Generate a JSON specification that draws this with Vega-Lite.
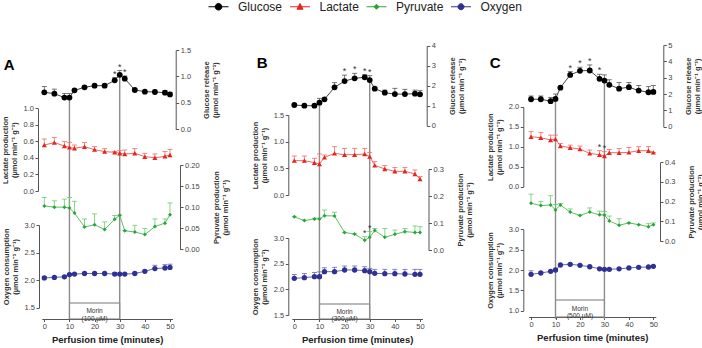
{
  "$schema": "https://vega.github.io/schema/vega-lite/v6.json",
  "width": 702,
  "height": 319,
  "autosize": {"type": "none"},
  "padding": {"left": 0, "top": 0, "right": 0, "bottom": 29},
  "background": "white",
  "datasets": {
    "panelA": [
      {"t": 0, "g": 0.70, "gh": 0.81, "l": 0.556, "lh": 0.629, "p": 0.103, "ph": 0.123, "o": 2.04, "oh": 2.06},
      {"t": 4, "g": 0.674, "gh": 0.76, "l": 0.585, "lh": 0.645, "p": 0.100, "ph": 0.115, "o": 2.05, "oh": 2.06},
      {"t": 8, "g": 0.60, "gh": 0.68, "l": 0.544, "lh": 0.597, "p": 0.100, "ph": 0.119, "o": 2.06, "oh": 2.07},
      {"t": 10, "g": 0.60, "gh": 0.68, "l": 0.528, "lh": 0.589, "p": 0.098, "ph": 0.123, "o": 2.10, "oh": 2.12},
      {"t": 12, "g": 0.737, "gh": 0.76, "l": 0.516, "lh": 0.556, "p": 0.086, "ph": 0.114, "o": 2.11, "oh": 2.12},
      {"t": 16, "g": 0.794, "gh": 0.82, "l": 0.536, "lh": 0.585, "p": 0.053, "ph": 0.072, "o": 2.12, "oh": 2.13},
      {"t": 20, "g": 0.825, "gh": 0.85, "l": 0.500, "lh": 0.536, "p": 0.058, "ph": 0.084, "o": 2.12, "oh": 2.13},
      {"t": 24, "g": 0.825, "gh": 0.83, "l": 0.476, "lh": 0.512, "p": 0.047, "ph": 0.065, "o": 2.12, "oh": 2.13},
      {"t": 28, "g": 0.926, "gh": 0.976, "gs": true, "l": 0.468, "lh": 0.476, "p": 0.071, "ph": 0.080, "o": 2.11, "oh": 2.14},
      {"t": 30, "g": 1.03, "gh": 1.11, "gs": true, "l": 0.456, "lh": 0.488, "p": 0.081, "ph": 0.081, "o": 2.11, "oh": 2.12},
      {"t": 32, "g": 0.958, "gh": 1.008, "gs": true, "l": 0.448, "lh": 0.496, "p": 0.044, "ph": 0.044, "o": 2.11, "oh": 2.12},
      {"t": 36, "g": 0.744, "gh": 0.77, "l": 0.456, "lh": 0.512, "p": 0.041, "ph": 0.057, "o": 2.12, "oh": 2.14},
      {"t": 40, "g": 0.712, "gh": 0.712, "l": 0.415, "lh": 0.456, "p": 0.035, "ph": 0.049, "o": 2.16, "oh": 2.18},
      {"t": 44, "g": 0.706, "gh": 0.74, "l": 0.403, "lh": 0.448, "p": 0.054, "ph": 0.072, "o": 2.21, "oh": 2.27},
      {"t": 48, "g": 0.693, "gh": 0.73, "l": 0.419, "lh": 0.476, "p": 0.062, "ph": 0.072, "o": 2.22, "oh": 2.28},
      {"t": 50, "g": 0.66, "gh": 0.70, "l": 0.435, "lh": 0.504, "p": 0.082, "ph": 0.110, "o": 2.23, "oh": 2.29}
    ],
    "panelB": [
      {"t": 0, "g": 1.035, "gh": 1.08, "l": 0.644, "lh": 0.731, "p": 0.123, "ph": 0.123, "o": 2.215, "oh": 2.29},
      {"t": 4, "g": 1.00, "gh": 1.00, "l": 0.644, "lh": 0.731, "p": 0.109, "ph": 0.109, "o": 2.227, "oh": 2.31},
      {"t": 8, "g": 1.00, "gh": 1.00, "l": 0.606, "lh": 0.688, "p": 0.115, "ph": 0.118, "o": 2.247, "oh": 2.33},
      {"t": 10, "g": 1.15, "gh": 1.37, "l": 0.581, "lh": 0.769, "p": 0.115, "ph": 0.118, "o": 2.247, "oh": 2.34},
      {"t": 12, "g": 1.32, "gh": 1.35, "l": 0.706, "lh": 0.75, "p": 0.127, "ph": 0.148, "o": 2.344, "oh": 2.42},
      {"t": 16, "g": 1.92, "gh": 2.15, "l": 0.78, "lh": 0.906, "p": 0.126, "ph": 0.140, "o": 2.344, "oh": 2.43},
      {"t": 20, "g": 2.23, "gh": 2.53, "gs": true, "l": 0.756, "lh": 0.875, "p": 0.065, "ph": 0.065, "o": 2.377, "oh": 2.455},
      {"t": 24, "g": 2.37, "gh": 2.62, "gs": true, "l": 0.756, "lh": 0.875, "p": 0.059, "ph": 0.059, "o": 2.377, "oh": 2.455},
      {"t": 28, "g": 2.42, "gh": 2.55, "gs": true, "l": 0.769, "lh": 0.875, "p": 0.036, "ph": 0.049, "ps": true, "o": 2.364, "oh": 2.44},
      {"t": 30, "g": 2.28, "gh": 2.50, "gs": true, "l": 0.719, "lh": 0.80, "p": 0.047, "ph": 0.068, "ps": true, "o": 2.344, "oh": 2.41},
      {"t": 32, "g": 1.85, "gh": 1.90, "l": 0.556, "lh": 0.625, "p": 0.072, "ph": 0.080, "o": 2.312, "oh": 2.39},
      {"t": 36, "g": 1.65, "gh": 1.78, "l": 0.488, "lh": 0.55, "p": 0.047, "ph": 0.080, "o": 2.305, "oh": 2.39},
      {"t": 40, "g": 1.58, "gh": 1.87, "l": 0.444, "lh": 0.513, "p": 0.058, "ph": 0.074, "o": 2.305, "oh": 2.39},
      {"t": 44, "g": 1.58, "gh": 1.82, "l": 0.444, "lh": 0.513, "p": 0.068, "ph": 0.080, "o": 2.299, "oh": 2.39},
      {"t": 48, "g": 1.60, "gh": 1.78, "l": 0.394, "lh": 0.469, "p": 0.065, "ph": 0.089, "o": 2.292, "oh": 2.39},
      {"t": 50, "g": 1.57, "gh": 1.75, "l": 0.30, "lh": 0.344, "p": 0.065, "ph": 0.086, "o": 2.292, "oh": 2.39}
    ],
    "panelC": [
      {"t": 0, "g": 1.68, "gh": 1.88, "l": 1.25, "lh": 1.375, "p": 0.192, "ph": 0.238, "o": 1.893, "oh": 1.98},
      {"t": 4, "g": 1.68, "gh": 1.88, "l": 1.225, "lh": 1.35, "p": 0.18, "ph": 0.202, "o": 1.926, "oh": 1.95},
      {"t": 8, "g": 1.56, "gh": 1.78, "l": 1.167, "lh": 1.29, "p": 0.183, "ph": 0.23, "o": 1.967, "oh": 1.99},
      {"t": 10, "g": 1.70, "gh": 2.0, "l": 1.19, "lh": 1.29, "p": 0.158, "ph": 0.185, "o": 2.0, "oh": 2.02},
      {"t": 12, "g": 2.39, "gh": 2.39, "l": 1.017, "lh": 1.083, "p": 0.183, "ph": 0.19, "o": 2.123, "oh": 2.14},
      {"t": 16, "g": 3.17, "gh": 3.37, "gs": true, "l": 0.975, "lh": 1.04, "p": 0.147, "ph": 0.163, "o": 2.14, "oh": 2.16},
      {"t": 20, "g": 3.42, "gh": 3.64, "gs": true, "l": 0.94, "lh": 1.017, "p": 0.13, "ph": 0.13, "o": 2.115, "oh": 2.13},
      {"t": 24, "g": 3.44, "gh": 3.78, "gs": true, "l": 0.833, "lh": 0.917, "p": 0.147, "ph": 0.168, "o": 2.08, "oh": 2.10},
      {"t": 28, "g": 2.93, "gh": 3.21, "gs": true, "l": 0.80, "lh": 0.90, "ls": true, "p": 0.133, "ph": 0.152, "o": 2.03, "oh": 2.05},
      {"t": 30, "g": 2.82, "gh": 3.17, "l": 0.767, "lh": 0.875, "ls": true, "p": 0.132, "ph": 0.15, "o": 2.016, "oh": 2.03},
      {"t": 32, "g": 2.56, "gh": 2.87, "l": 0.85, "lh": 0.933, "p": 0.102, "ph": 0.127, "o": 2.016, "oh": 2.03},
      {"t": 36, "g": 2.33, "gh": 2.70, "l": 0.85, "lh": 0.958, "p": 0.08, "ph": 0.113, "o": 2.03, "oh": 2.04},
      {"t": 40, "g": 2.42, "gh": 2.70, "l": 0.858, "lh": 0.983, "p": 0.092, "ph": 0.092, "o": 2.05, "oh": 2.06},
      {"t": 44, "g": 2.21, "gh": 2.52, "l": 0.90, "lh": 1.0, "p": 0.083, "ph": 0.083, "o": 2.066, "oh": 2.08},
      {"t": 48, "g": 2.11, "gh": 2.45, "l": 0.90, "lh": 1.0, "p": 0.073, "ph": 0.088, "o": 2.074, "oh": 2.09},
      {"t": 50, "g": 2.13, "gh": 2.52, "l": 0.858, "lh": 0.858, "p": 0.083, "ph": 0.092, "o": 2.09, "oh": 2.10}
    ]
  },
  "layer": [
    {
      "data": {"name": "panelA"},
      "layer": [
        {
          "data": {"values": [{"start": 10, "end": 30, "mid": 20, "label": "Morin\n(100 µM)"}]},
          "encoding": {"y": {"datum": 1, "type": "quantitative", "scale": {"domain": [0, 1], "range": [319, 303], "nice": false, "zero": false}, "axis": null}},
          "layer": [
            {"mark": {"type": "rect", "filled": false, "stroke": "#777", "strokeWidth": 1}, "encoding": {"x": {"field": "start", "type": "quantitative", "scale": {"domain": [-1, 51], "range": [41.8, 172.5], "nice": false, "zero": false}}, "x2": {"field": "end"}, "y2": {"datum": 0}}},
            {"mark": {"type": "text", "lineBreak": "\n", "fontSize": 6.5, "lineHeight": 7.5, "color": "#333"}, "encoding": {"x": {"field": "mid", "type": "quantitative", "scale": {"domain": [-1, 51], "range": [41.8, 172.5], "nice": false, "zero": false}}, "y": {"datum": 0.5, "type": "quantitative", "scale": {"domain": [0, 1], "range": [319, 303], "nice": false, "zero": false}}, "text": {"field": "label"}}}
          ]
        },
        {
          "data": {"values": [{"letter": "A"}]},
          "mark": {"type": "text", "fontSize": 15, "fontWeight": "bold", "color": "#000"},
          "encoding": {"x": {"datum": -14, "type": "quantitative", "scale": {"domain": [-1, 51], "range": [41.8, 172.5], "nice": false, "zero": false}}, "y": {"datum": 1.22, "type": "quantitative", "scale": {"domain": [0, 1.5], "range": [129.3, 50], "nice": false, "zero": false}, "axis": null}, "text": {"field": "letter", "type": "nominal"}}
        },
        {
          "encoding": {
            "x": {"field": "t", "type": "quantitative", "scale": {"domain": [-1, 51], "range": [41.8, 172.5], "nice": false, "zero": false}, "axis": {"orient": "bottom", "values": [0, 10, 20, 30, 40, 50], "format": "d", "title": "Perfusion time (minutes)", "labelFlush": false}},
            "y": {"field": "g", "type": "quantitative", "scale": {"domain": [0, 1.5], "range": [129.3, 50], "nice": false, "zero": false}, "axis": {"orient": "right", "offset": -526.3, "values": [0, 0.5, 1, 1.5], "format": ".1f", "title": ["Glucose release", "(µmol min⁻¹ g⁻¹)"], "titleAngle": 270, "titleBaseline": "top", "titlePadding": 3}}
          },
          "layer": [
            {"transform": [{"filter": "datum.t == 10 || datum.t == 30"}], "mark": {"type": "rule", "color": "#8c8c8c", "strokeWidth": 1.4}, "encoding": {"y2": {"value": "height"}}},
            {"mark": {"type": "rule", "color": "#555", "strokeWidth": 0.8}, "encoding": {"y2": {"field": "gh"}}},
            {"mark": {"type": "tick", "orient": "horizontal", "color": "#555", "size": 5, "thickness": 0.8, "opacity": 1}, "encoding": {"y": {"field": "gh", "type": "quantitative", "scale": {"domain": [0, 1.5], "range": [129.3, 50], "nice": false, "zero": false}}}},
            {"mark": {"type": "line", "color": "#444", "strokeWidth": 1}, "encoding": {}},
            {"mark": {"type": "point", "shape": "circle", "filled": true, "color": "#000", "size": 34, "opacity": 1}},
            {"transform": [{"filter": "datum.gs"}], "mark": {"type": "text", "text": "*", "fontSize": 9, "dy": -1, "baseline": "alphabetic", "color": "#333"}, "encoding": {"y": {"field": "gh", "type": "quantitative", "scale": {"domain": [0, 1.5], "range": [129.3, 50], "nice": false, "zero": false}}}}
          ]
        },
        {
          "encoding": {
            "x": {"field": "t", "type": "quantitative", "scale": {"domain": [-1, 51], "range": [41.8, 172.5], "nice": false, "zero": false}},
            "y": {"field": "l", "type": "quantitative", "scale": {"domain": [0, 1], "range": [191, 108.3], "nice": false, "zero": false}, "axis": {"orient": "left", "offset": -38, "values": [0, 0.2, 0.4, 0.6, 0.8, 1], "format": ".1f", "title": ["Lactate production", "(µmol min⁻¹ g⁻¹)"]}}
          },
          "layer": [
            {"mark": {"type": "rule", "color": "#f06a64", "strokeWidth": 0.8}, "encoding": {"y2": {"field": "lh"}}},
            {"mark": {"type": "tick", "orient": "horizontal", "color": "#f06a64", "size": 5, "thickness": 0.8, "opacity": 1}, "encoding": {"y": {"field": "lh", "type": "quantitative", "scale": {"domain": [0, 1], "range": [191, 108.3], "nice": false, "zero": false}}}},
            {"mark": {"type": "line", "color": "#f06a64", "strokeWidth": 1}, "encoding": {}},
            {"mark": {"type": "point", "shape": "triangle-up", "filled": true, "color": "#e8231d", "size": 26, "opacity": 1}}
          ]
        },
        {
          "encoding": {
            "x": {"field": "t", "type": "quantitative", "scale": {"domain": [-1, 51], "range": [41.8, 172.5], "nice": false, "zero": false}},
            "y": {"field": "p", "type": "quantitative", "scale": {"domain": [0, 0.2], "range": [249.3, 165], "nice": false, "zero": false}, "axis": {"orient": "right", "offset": -522, "values": [0, 0.05, 0.1, 0.15, 0.2], "format": ".2f", "title": ["Pyruvate production", "(µmol min⁻¹ g⁻¹)"], "titleAngle": 270, "titleBaseline": "top", "titlePadding": 4}}
          },
          "layer": [
            {"mark": {"type": "rule", "color": "#6cc96c", "strokeWidth": 0.8}, "encoding": {"y2": {"field": "ph"}}},
            {"mark": {"type": "tick", "orient": "horizontal", "color": "#6cc96c", "size": 5, "thickness": 0.8, "opacity": 1}, "encoding": {"y": {"field": "ph", "type": "quantitative", "scale": {"domain": [0, 0.2], "range": [249.3, 165], "nice": false, "zero": false}}}},
            {"mark": {"type": "line", "color": "#5cc35c", "strokeWidth": 1}, "encoding": {}},
            {"mark": {"type": "point", "shape": "diamond", "filled": true, "color": "#2aa33e", "size": 16, "opacity": 1}}
          ]
        },
        {
          "encoding": {
            "x": {"field": "t", "type": "quantitative", "scale": {"domain": [-1, 51], "range": [41.8, 172.5], "nice": false, "zero": false}},
            "y": {"field": "o", "type": "quantitative", "scale": {"domain": [1.5, 3], "range": [307.7, 225], "nice": false, "zero": false}, "axis": {"orient": "left", "offset": -39, "values": [1.5, 2, 2.5, 3], "format": ".1f", "title": ["Oxygen consumption", "(µmol min⁻¹ g⁻¹)"]}}
          },
          "layer": [
            {"mark": {"type": "rule", "color": "#6667b3", "strokeWidth": 0.8}, "encoding": {"y2": {"field": "oh"}}},
            {"mark": {"type": "tick", "orient": "horizontal", "color": "#6667b3", "size": 5, "thickness": 0.8, "opacity": 1}, "encoding": {"y": {"field": "oh", "type": "quantitative", "scale": {"domain": [1.5, 3], "range": [307.7, 225], "nice": false, "zero": false}}}},
            {"mark": {"type": "line", "color": "#6667b3", "strokeWidth": 1}, "encoding": {}},
            {"mark": {"type": "point", "shape": "circle", "filled": true, "color": "#2e3192", "size": 28, "opacity": 1}}
          ]
        }
      ],
      "resolve": {"scale": {"y": "independent"}, "axis": {"y": "independent"}}
    },
    {
      "data": {"name": "panelB"},
      "layer": [
        {
          "data": {"values": [{"start": 10, "end": 30, "mid": 20, "label": "Morin\n(300 µM)"}]},
          "encoding": {"y": {"datum": 1, "type": "quantitative", "scale": {"domain": [0, 1], "range": [319, 304], "nice": false, "zero": false}, "axis": null}},
          "layer": [
            {"mark": {"type": "rect", "filled": false, "stroke": "#777", "strokeWidth": 1}, "encoding": {"x": {"field": "start", "type": "quantitative", "scale": {"domain": [-1, 51], "range": [291.8, 422.5], "nice": false, "zero": false}}, "x2": {"field": "end"}, "y2": {"datum": 0}}},
            {"mark": {"type": "text", "lineBreak": "\n", "fontSize": 6.5, "lineHeight": 7.5, "color": "#333"}, "encoding": {"x": {"field": "mid", "type": "quantitative", "scale": {"domain": [-1, 51], "range": [291.8, 422.5], "nice": false, "zero": false}}, "y": {"datum": 0.5, "type": "quantitative", "scale": {"domain": [0, 1], "range": [319, 304], "nice": false, "zero": false}}, "text": {"field": "label"}}}
          ]
        },
        {
          "data": {"values": [{"letter": "B"}]},
          "mark": {"type": "text", "fontSize": 15, "fontWeight": "bold", "color": "#000"},
          "encoding": {"x": {"datum": -12.8, "type": "quantitative", "scale": {"domain": [-1, 51], "range": [291.8, 422.5], "nice": false, "zero": false}}, "y": {"datum": 3.13, "type": "quantitative", "scale": {"domain": [0, 4], "range": [125.7, 45.7], "nice": false, "zero": false}, "axis": null}, "text": {"field": "letter", "type": "nominal"}}
        },
        {
          "encoding": {
            "x": {"field": "t", "type": "quantitative", "scale": {"domain": [-1, 51], "range": [291.8, 422.5], "nice": false, "zero": false}, "axis": {"orient": "bottom", "values": [0, 10, 20, 30, 40, 50], "format": "d", "title": "Perfusion time (minutes)", "labelFlush": false}},
            "y": {"field": "g", "type": "quantitative", "scale": {"domain": [0, 4], "range": [125.7, 45.7], "nice": false, "zero": false}, "axis": {"orient": "right", "offset": -275.3, "values": [0, 1, 2, 3, 4], "format": "d", "title": ["Glucose release", "(µmol min⁻¹ g⁻¹)"], "titleAngle": 270, "titleBaseline": "top", "titlePadding": 4}}
          },
          "layer": [
            {"transform": [{"filter": "datum.t == 10 || datum.t == 30"}], "mark": {"type": "rule", "color": "#8c8c8c", "strokeWidth": 1.4}, "encoding": {"y2": {"value": "height"}}},
            {"mark": {"type": "rule", "color": "#555", "strokeWidth": 0.8}, "encoding": {"y2": {"field": "gh"}}},
            {"mark": {"type": "tick", "orient": "horizontal", "color": "#555", "size": 5, "thickness": 0.8, "opacity": 1}, "encoding": {"y": {"field": "gh", "type": "quantitative", "scale": {"domain": [0, 4], "range": [125.7, 45.7], "nice": false, "zero": false}}}},
            {"mark": {"type": "line", "color": "#444", "strokeWidth": 1}, "encoding": {}},
            {"mark": {"type": "point", "shape": "circle", "filled": true, "color": "#000", "size": 34, "opacity": 1}},
            {"transform": [{"filter": "datum.gs"}], "mark": {"type": "text", "text": "*", "fontSize": 9, "dy": -1, "baseline": "alphabetic", "color": "#333"}, "encoding": {"y": {"field": "gh", "type": "quantitative", "scale": {"domain": [0, 4], "range": [125.7, 45.7], "nice": false, "zero": false}}}}
          ]
        },
        {
          "encoding": {
            "x": {"field": "t", "type": "quantitative", "scale": {"domain": [-1, 51], "range": [291.8, 422.5], "nice": false, "zero": false}},
            "y": {"field": "l", "type": "quantitative", "scale": {"domain": [0, 1.5], "range": [195, 115], "nice": false, "zero": false}, "axis": {"orient": "left", "offset": -288.3, "values": [0, 0.5, 1, 1.5], "format": ".1f", "title": ["Lactate production", "(µmol min⁻¹ g⁻¹)"]}}
          },
          "layer": [
            {"mark": {"type": "rule", "color": "#f06a64", "strokeWidth": 0.8}, "encoding": {"y2": {"field": "lh"}}},
            {"mark": {"type": "tick", "orient": "horizontal", "color": "#f06a64", "size": 5, "thickness": 0.8, "opacity": 1}, "encoding": {"y": {"field": "lh", "type": "quantitative", "scale": {"domain": [0, 1.5], "range": [195, 115], "nice": false, "zero": false}}}},
            {"mark": {"type": "line", "color": "#f06a64", "strokeWidth": 1}, "encoding": {}},
            {"mark": {"type": "point", "shape": "triangle-up", "filled": true, "color": "#e8231d", "size": 26, "opacity": 1}}
          ]
        },
        {
          "encoding": {
            "x": {"field": "t", "type": "quantitative", "scale": {"domain": [-1, 51], "range": [291.8, 422.5], "nice": false, "zero": false}},
            "y": {"field": "p", "type": "quantitative", "scale": {"domain": [0, 0.3], "range": [250, 169], "nice": false, "zero": false}, "axis": {"orient": "right", "offset": -273.5, "values": [0, 0.1, 0.2, 0.3], "format": ".1f", "title": ["Pyruvate production", "(µmol min⁻¹ g⁻¹)"], "titleAngle": 270, "titleBaseline": "top", "titlePadding": 4}}
          },
          "layer": [
            {"mark": {"type": "rule", "color": "#6cc96c", "strokeWidth": 0.8}, "encoding": {"y2": {"field": "ph"}}},
            {"mark": {"type": "tick", "orient": "horizontal", "color": "#6cc96c", "size": 5, "thickness": 0.8, "opacity": 1}, "encoding": {"y": {"field": "ph", "type": "quantitative", "scale": {"domain": [0, 0.3], "range": [250, 169], "nice": false, "zero": false}}}},
            {"mark": {"type": "line", "color": "#5cc35c", "strokeWidth": 1}, "encoding": {}},
            {"mark": {"type": "point", "shape": "diamond", "filled": true, "color": "#2aa33e", "size": 16, "opacity": 1}},
            {"transform": [{"filter": "datum.ps"}], "mark": {"type": "text", "text": "*", "fontSize": 9, "dy": -1, "baseline": "alphabetic", "color": "#333"}, "encoding": {"y": {"field": "ph", "type": "quantitative", "scale": {"domain": [0, 0.3], "range": [250, 169], "nice": false, "zero": false}}}}
          ]
        },
        {
          "encoding": {
            "x": {"field": "t", "type": "quantitative", "scale": {"domain": [-1, 51], "range": [291.8, 422.5], "nice": false, "zero": false}},
            "y": {"field": "o", "type": "quantitative", "scale": {"domain": [1.5, 3], "range": [315, 238], "nice": false, "zero": false}, "axis": {"orient": "left", "offset": -288.3, "values": [1.5, 2, 2.5, 3], "format": ".1f", "title": ["Oxygen consumption", "(µmol min⁻¹ g⁻¹)"]}}
          },
          "layer": [
            {"mark": {"type": "rule", "color": "#6667b3", "strokeWidth": 0.8}, "encoding": {"y2": {"field": "oh"}}},
            {"mark": {"type": "tick", "orient": "horizontal", "color": "#6667b3", "size": 5, "thickness": 0.8, "opacity": 1}, "encoding": {"y": {"field": "oh", "type": "quantitative", "scale": {"domain": [1.5, 3], "range": [315, 238], "nice": false, "zero": false}}}},
            {"mark": {"type": "line", "color": "#6667b3", "strokeWidth": 1}, "encoding": {}},
            {"mark": {"type": "point", "shape": "circle", "filled": true, "color": "#2e3192", "size": 28, "opacity": 1}}
          ]
        }
      ],
      "resolve": {"scale": {"y": "independent"}, "axis": {"y": "independent"}}
    },
    {
      "data": {"name": "panelC"},
      "layer": [
        {
          "data": {"values": [{"start": 10, "end": 30, "mid": 20, "label": "Morin\n(500 µM)"}]},
          "encoding": {"y": {"datum": 1, "type": "quantitative", "scale": {"domain": [0, 1], "range": [317, 300], "nice": false, "zero": false}, "axis": null}},
          "layer": [
            {"mark": {"type": "rect", "filled": false, "stroke": "#777", "strokeWidth": 1}, "encoding": {"x": {"field": "start", "type": "quantitative", "scale": {"domain": [-1, 51], "range": [528.6, 655.8], "nice": false, "zero": false}}, "x2": {"field": "end"}, "y2": {"datum": 0}}},
            {"mark": {"type": "text", "lineBreak": "\n", "fontSize": 6.5, "lineHeight": 7.5, "color": "#333"}, "encoding": {"x": {"field": "mid", "type": "quantitative", "scale": {"domain": [-1, 51], "range": [528.6, 655.8], "nice": false, "zero": false}}, "y": {"datum": 0.5, "type": "quantitative", "scale": {"domain": [0, 1], "range": [317, 300], "nice": false, "zero": false}}, "text": {"field": "label"}}}
          ]
        },
        {
          "data": {"values": [{"letter": "C"}]},
          "mark": {"type": "text", "fontSize": 15, "fontWeight": "bold", "color": "#000"},
          "encoding": {"x": {"datum": -14.7, "type": "quantitative", "scale": {"domain": [-1, 51], "range": [528.6, 655.8], "nice": false, "zero": false}}, "y": {"datum": 3.9, "type": "quantitative", "scale": {"domain": [0, 5], "range": [126.7, 45], "nice": false, "zero": false}, "axis": null}, "text": {"field": "letter", "type": "nominal"}}
        },
        {
          "encoding": {
            "x": {"field": "t", "type": "quantitative", "scale": {"domain": [-1, 51], "range": [528.6, 655.8], "nice": false, "zero": false}, "axis": {"orient": "bottom", "values": [0, 10, 20, 30, 40, 50], "format": "d", "title": "Perfusion time (minutes)", "labelFlush": false, "offset": -2}},
            "y": {"field": "g", "type": "quantitative", "scale": {"domain": [0, 5], "range": [126.7, 45], "nice": false, "zero": false}, "axis": {"orient": "right", "offset": -38.7, "values": [0, 1, 2, 3, 4, 5], "format": "d", "title": ["Glucose release", "(µmol min⁻¹ g⁻¹)"], "titleAngle": 270, "titleBaseline": "top", "titlePadding": 4}}
          },
          "layer": [
            {"transform": [{"filter": "datum.t == 10 || datum.t == 30"}], "mark": {"type": "rule", "color": "#8c8c8c", "strokeWidth": 1.4}, "encoding": {"y2": {"value": "height"}}},
            {"mark": {"type": "rule", "color": "#555", "strokeWidth": 0.8}, "encoding": {"y2": {"field": "gh"}}},
            {"mark": {"type": "tick", "orient": "horizontal", "color": "#555", "size": 5, "thickness": 0.8, "opacity": 1}, "encoding": {"y": {"field": "gh", "type": "quantitative", "scale": {"domain": [0, 5], "range": [126.7, 45], "nice": false, "zero": false}}}},
            {"mark": {"type": "line", "color": "#444", "strokeWidth": 1}, "encoding": {}},
            {"mark": {"type": "point", "shape": "circle", "filled": true, "color": "#000", "size": 34, "opacity": 1}},
            {"transform": [{"filter": "datum.gs"}], "mark": {"type": "text", "text": "*", "fontSize": 9, "dy": -1, "baseline": "alphabetic", "color": "#333"}, "encoding": {"y": {"field": "gh", "type": "quantitative", "scale": {"domain": [0, 5], "range": [126.7, 45], "nice": false, "zero": false}}}}
          ]
        },
        {
          "encoding": {
            "x": {"field": "t", "type": "quantitative", "scale": {"domain": [-1, 51], "range": [528.6, 655.8], "nice": false, "zero": false}},
            "y": {"field": "l", "type": "quantitative", "scale": {"domain": [0, 2], "range": [186.7, 106.7], "nice": false, "zero": false}, "axis": {"orient": "left", "offset": -523.3, "values": [0, 0.5, 1, 1.5, 2], "format": ".1f", "title": ["Lactate production", "(µmol min⁻¹ g⁻¹)"]}}
          },
          "layer": [
            {"mark": {"type": "rule", "color": "#f06a64", "strokeWidth": 0.8}, "encoding": {"y2": {"field": "lh"}}},
            {"mark": {"type": "tick", "orient": "horizontal", "color": "#f06a64", "size": 5, "thickness": 0.8, "opacity": 1}, "encoding": {"y": {"field": "lh", "type": "quantitative", "scale": {"domain": [0, 2], "range": [186.7, 106.7], "nice": false, "zero": false}}}},
            {"mark": {"type": "line", "color": "#f06a64", "strokeWidth": 1}, "encoding": {}},
            {"mark": {"type": "point", "shape": "triangle-up", "filled": true, "color": "#e8231d", "size": 26, "opacity": 1}},
            {"transform": [{"filter": "datum.ls"}], "mark": {"type": "text", "text": "*", "fontSize": 9, "dy": -1, "baseline": "alphabetic", "color": "#333"}, "encoding": {"y": {"field": "lh", "type": "quantitative", "scale": {"domain": [0, 2], "range": [186.7, 106.7], "nice": false, "zero": false}}}}
          ]
        },
        {
          "encoding": {
            "x": {"field": "t", "type": "quantitative", "scale": {"domain": [-1, 51], "range": [528.6, 655.8], "nice": false, "zero": false}},
            "y": {"field": "p", "type": "quantitative", "scale": {"domain": [0, 0.4], "range": [241, 162.3], "nice": false, "zero": false}, "axis": {"orient": "right", "offset": -42, "values": [0, 0.1, 0.2, 0.3, 0.4], "format": ".1f", "title": ["Pyruvate production", "(µmol min⁻¹ g⁻¹)"], "titleAngle": 270, "titleBaseline": "top", "titlePadding": 4}}
          },
          "layer": [
            {"mark": {"type": "rule", "color": "#6cc96c", "strokeWidth": 0.8}, "encoding": {"y2": {"field": "ph"}}},
            {"mark": {"type": "tick", "orient": "horizontal", "color": "#6cc96c", "size": 5, "thickness": 0.8, "opacity": 1}, "encoding": {"y": {"field": "ph", "type": "quantitative", "scale": {"domain": [0, 0.4], "range": [241, 162.3], "nice": false, "zero": false}}}},
            {"mark": {"type": "line", "color": "#5cc35c", "strokeWidth": 1}, "encoding": {}},
            {"mark": {"type": "point", "shape": "diamond", "filled": true, "color": "#2aa33e", "size": 16, "opacity": 1}}
          ]
        },
        {
          "encoding": {
            "x": {"field": "t", "type": "quantitative", "scale": {"domain": [-1, 51], "range": [528.6, 655.8], "nice": false, "zero": false}},
            "y": {"field": "o", "type": "quantitative", "scale": {"domain": [1, 3], "range": [310.7, 229.3], "nice": false, "zero": false}, "axis": {"orient": "left", "offset": -523.3, "values": [1, 1.5, 2, 2.5, 3], "format": ".1f", "title": ["Oxygen consumption", "(µmol min⁻¹ g⁻¹)"]}}
          },
          "layer": [
            {"mark": {"type": "rule", "color": "#6667b3", "strokeWidth": 0.8}, "encoding": {"y2": {"field": "oh"}}},
            {"mark": {"type": "tick", "orient": "horizontal", "color": "#6667b3", "size": 5, "thickness": 0.8, "opacity": 1}, "encoding": {"y": {"field": "oh", "type": "quantitative", "scale": {"domain": [1, 3], "range": [310.7, 229.3], "nice": false, "zero": false}}}},
            {"mark": {"type": "line", "color": "#6667b3", "strokeWidth": 1}, "encoding": {}},
            {"mark": {"type": "point", "shape": "circle", "filled": true, "color": "#2e3192", "size": 28, "opacity": 1}}
          ]
        }
      ],
      "resolve": {"scale": {"y": "independent"}, "axis": {"y": "independent"}}
    },
    {
      "data": {"values": [{"series": "Glucose"}, {"series": "Lactate"}, {"series": "Pyruvate"}, {"series": "Oxygen"}]},
      "mark": {"type": "point", "filled": true, "opacity": 0},
      "encoding": {
        "fill": {"field": "series", "type": "nominal", "scale": {"domain": ["Glucose", "Lactate", "Pyruvate", "Oxygen"], "range": ["#000000", "#e8231d", "#2aa33e", "#2e3192"]}, "legend": {"title": null, "orient": "none", "legendX": 208, "legendY": -4, "direction": "horizontal", "symbolSize": 400, "symbolStrokeWidth": 1, "labelFontSize": 12, "labelFont": "Liberation Sans", "labelColor": "#222", "labelOffset": 9, "columnPadding": 4.5, "padding": 0, "encode": {"symbols": {"update": {"fill": {"scale": "fill", "field": "value"}, "fillOpacity": {"value": 1}, "opacity": {"value": 1}}}}}},
        "stroke": {"field": "series", "type": "nominal", "scale": {"domain": ["Glucose", "Lactate", "Pyruvate", "Oxygen"], "range": ["#000000", "#e8231d", "#2aa33e", "#2e3192"]}, "legend": {"title": null, "orient": "none", "legendX": 208, "legendY": -4, "direction": "horizontal", "symbolSize": 400, "symbolStrokeWidth": 1, "labelFontSize": 12, "labelFont": "Liberation Sans", "labelColor": "#222", "labelOffset": 9, "columnPadding": 4.5, "padding": 0, "encode": {"symbols": {"update": {"fill": {"scale": "fill", "field": "value"}, "fillOpacity": {"value": 1}, "opacity": {"value": 1}}}}}},
        "shape": {"field": "series", "type": "nominal", "scale": {"domain": ["Glucose", "Lactate", "Pyruvate", "Oxygen"], "range": ["M-1,0H1M0.33,0A0.33,0.33,0,1,1,-0.33,0A0.33,0.33,0,1,1,0.33,0Z", "M-1,0H1M0,-0.33L0.3,0.25L-0.3,0.25Z", "M-1,0H1M0,-0.25L0.25,0L0,0.25L-0.25,0Z", "M-1,0H1M0.3,0A0.3,0.3,0,1,1,-0.3,0A0.3,0.3,0,1,1,0.3,0Z"]}, "legend": {"title": null, "orient": "none", "legendX": 208, "legendY": -4, "direction": "horizontal", "symbolSize": 400, "symbolStrokeWidth": 1, "labelFontSize": 12, "labelFont": "Liberation Sans", "labelColor": "#222", "labelOffset": 9, "columnPadding": 4.5, "padding": 0, "encode": {"symbols": {"update": {"fill": {"scale": "fill", "field": "value"}, "fillOpacity": {"value": 1}, "opacity": {"value": 1}}}}}}
      }
    }
  ],
  "resolve": {"scale": {"x": "independent", "y": "independent"}, "axis": {"x": "independent", "y": "independent"}},
  "config": {
    "view": {"stroke": null},
    "font": "Liberation Sans",
    "text": {"font": "Liberation Sans"},
    "axis": {
      "grid": false,
      "domainColor": "#555",
      "domainWidth": 1,
      "tickColor": "#555",
      "tickSize": 3,
      "tickWidth": 1,
      "labelFont": "Liberation Sans",
      "labelFontSize": 7.5,
      "labelColor": "#444",
      "labelPadding": 1.5,
      "labelOverlap": false,
      "titleFont": "Liberation Sans",
      "titleFontSize": 7.5,
      "titleFontWeight": "bold",
      "titleColor": "#333",
      "titleLineHeight": 9,
      "titlePadding": 5
    },
    "axisX": {"titleFontSize": 9.5, "titleColor": "#222", "titlePadding": 4, "tickSize": 2.5, "labelPadding": 1}
  }
}
